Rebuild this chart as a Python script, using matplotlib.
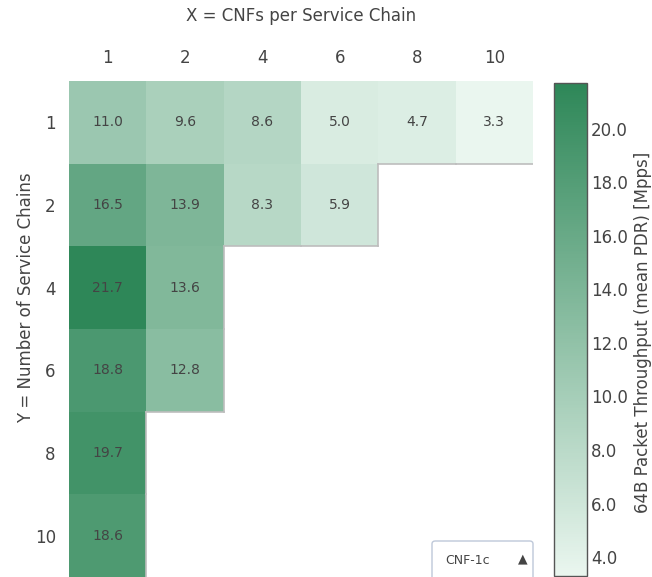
import numpy as np
import matplotlib
matplotlib.use("Agg")
import matplotlib.pyplot as plt
from matplotlib.colors import LinearSegmentedColormap
from matplotlib.patches import FancyBboxPatch

plt.rcParams["font.family"] = ["DejaVu Sans"]

# CNFs per chain (columns) and number of chains (rows)
x_labels = ["1", "2", "4", "6", "8", "10"]
y_labels = ["1", "2", "4", "6", "8", "10"]

# 64B throughput, mean PDR [Mpps]; nan = not measured
row_1 = [11.0, 9.6, 8.6, 5.0, 4.7, 3.3]
row_2 = [16.5, 13.9, 8.3, 5.9, np.nan, np.nan]
row_4 = [21.7, 13.6, np.nan, np.nan, np.nan, np.nan]
row_6 = [18.8, 12.8, np.nan, np.nan, np.nan, np.nan]
row_8 = [19.7, np.nan, np.nan, np.nan, np.nan, np.nan]
row_10 = [18.6, np.nan, np.nan, np.nan, np.nan, np.nan]

cbar_ticks = [4.0, 6.0, 8.0, 10.0, 12.0, 14.0, 16.0, 18.0, 20.0]
menu_label = "CNF-1c"

z = np.array([row_1, row_2, row_4, row_6, row_8, row_10])
zm = np.ma.masked_invalid(z)
zmin, zmax = np.nanmin(z), np.nanmax(z)

txt = "#444444"
cmap = LinearSegmentedColormap.from_list("grn", ["#eaf6ef", "#2e8758"])

W, H = 652, 577
fig = plt.figure(figsize=(W / 100, H / 100), dpi=100)
ax = fig.add_axes([69 / W, 0, 464 / W, (H - 81) / H])

nrow, ncol = z.shape
mesh = ax.pcolormesh(np.arange(ncol + 1), np.arange(nrow + 1), zm,
                     cmap=cmap, vmin=zmin, vmax=zmax)
ax.set_xlim(0, ncol)
ax.set_ylim(nrow, 0)

# value in each cell
for i in range(nrow):
    for j in range(ncol):
        if not np.isnan(z[i, j]):
            ax.text(j + 0.5, i + 0.5, f"{z[i, j]:.1f}", ha="center",
                    va="center", fontsize=10, color=txt)

# thin grey edge where the filled area meets empty cells
for i in range(nrow):
    for j in range(ncol):
        if np.isnan(z[i, j]):
            continue
        if i + 1 < nrow and np.isnan(z[i + 1, j]):
            ax.plot([j, j + 1], [i + 1, i + 1], color="#bdbdbd", lw=1.2)
        if j + 1 < ncol and np.isnan(z[i, j + 1]):
            ax.plot([j + 1, j + 1], [i, i + 1], color="#bdbdbd", lw=1.2)

ax.xaxis.tick_top()
ax.set_xticks(np.arange(ncol) + 0.5)
ax.set_xticklabels(x_labels)
ax.set_yticks(np.arange(nrow) + 0.5)
ax.set_yticklabels(y_labels)
ax.tick_params(length=0, labelsize=12, colors=txt)
ax.tick_params(axis="x", pad=10)
ax.tick_params(axis="y", pad=9.5)
for s in ax.spines.values():
    s.set_visible(False)

fig.text(301 / W, 1 - 16 / H, "X = CNFs per Service Chain", ha="center",
         va="center", fontsize=12, color=txt)
fig.text(26 / W, 1 - 298 / H, "Y = Number of Service Chains", ha="center",
         va="center", rotation=90, fontsize=12, color=txt)

# colour bar
cax = fig.add_axes([554 / W, 1 / H, 33 / W, (576 - 83) / H])
cb = fig.colorbar(mesh, cax=cax)
cb.set_ticks(cbar_ticks)
cb.set_ticklabels([f"{t:.1f}" for t in cbar_ticks])
cax.tick_params(length=0, pad=3, labelsize=12, colors=txt)
cb.outline.set_edgecolor("#555555")
cb.outline.set_linewidth(1)
fig.text(643 / W, 1 - 332 / H, "64B Packet Throughput (mean PDR) [Mpps]",
         ha="center", va="center", rotation=90, fontsize=12, color=txt)

# dropdown menu box
box = FancyBboxPatch((432 / W, -20 / H), 101 / W, 56 / H,
                     boxstyle="round,pad=0,rounding_size=0.005",
                     transform=fig.transFigure, facecolor="white",
                     edgecolor="#bec8d9", lw=1, clip_on=False)
fig.patches.append(box)
fig.text(445 / W, 1 - 560 / H, menu_label, ha="left", va="center",
         fontsize=9, color=txt)
fig.text(523 / W, 1 - 559 / H, "\u25b2", ha="center", va="center",
         fontsize=9, color=txt)

fig.savefig("out.png", dpi=100)
